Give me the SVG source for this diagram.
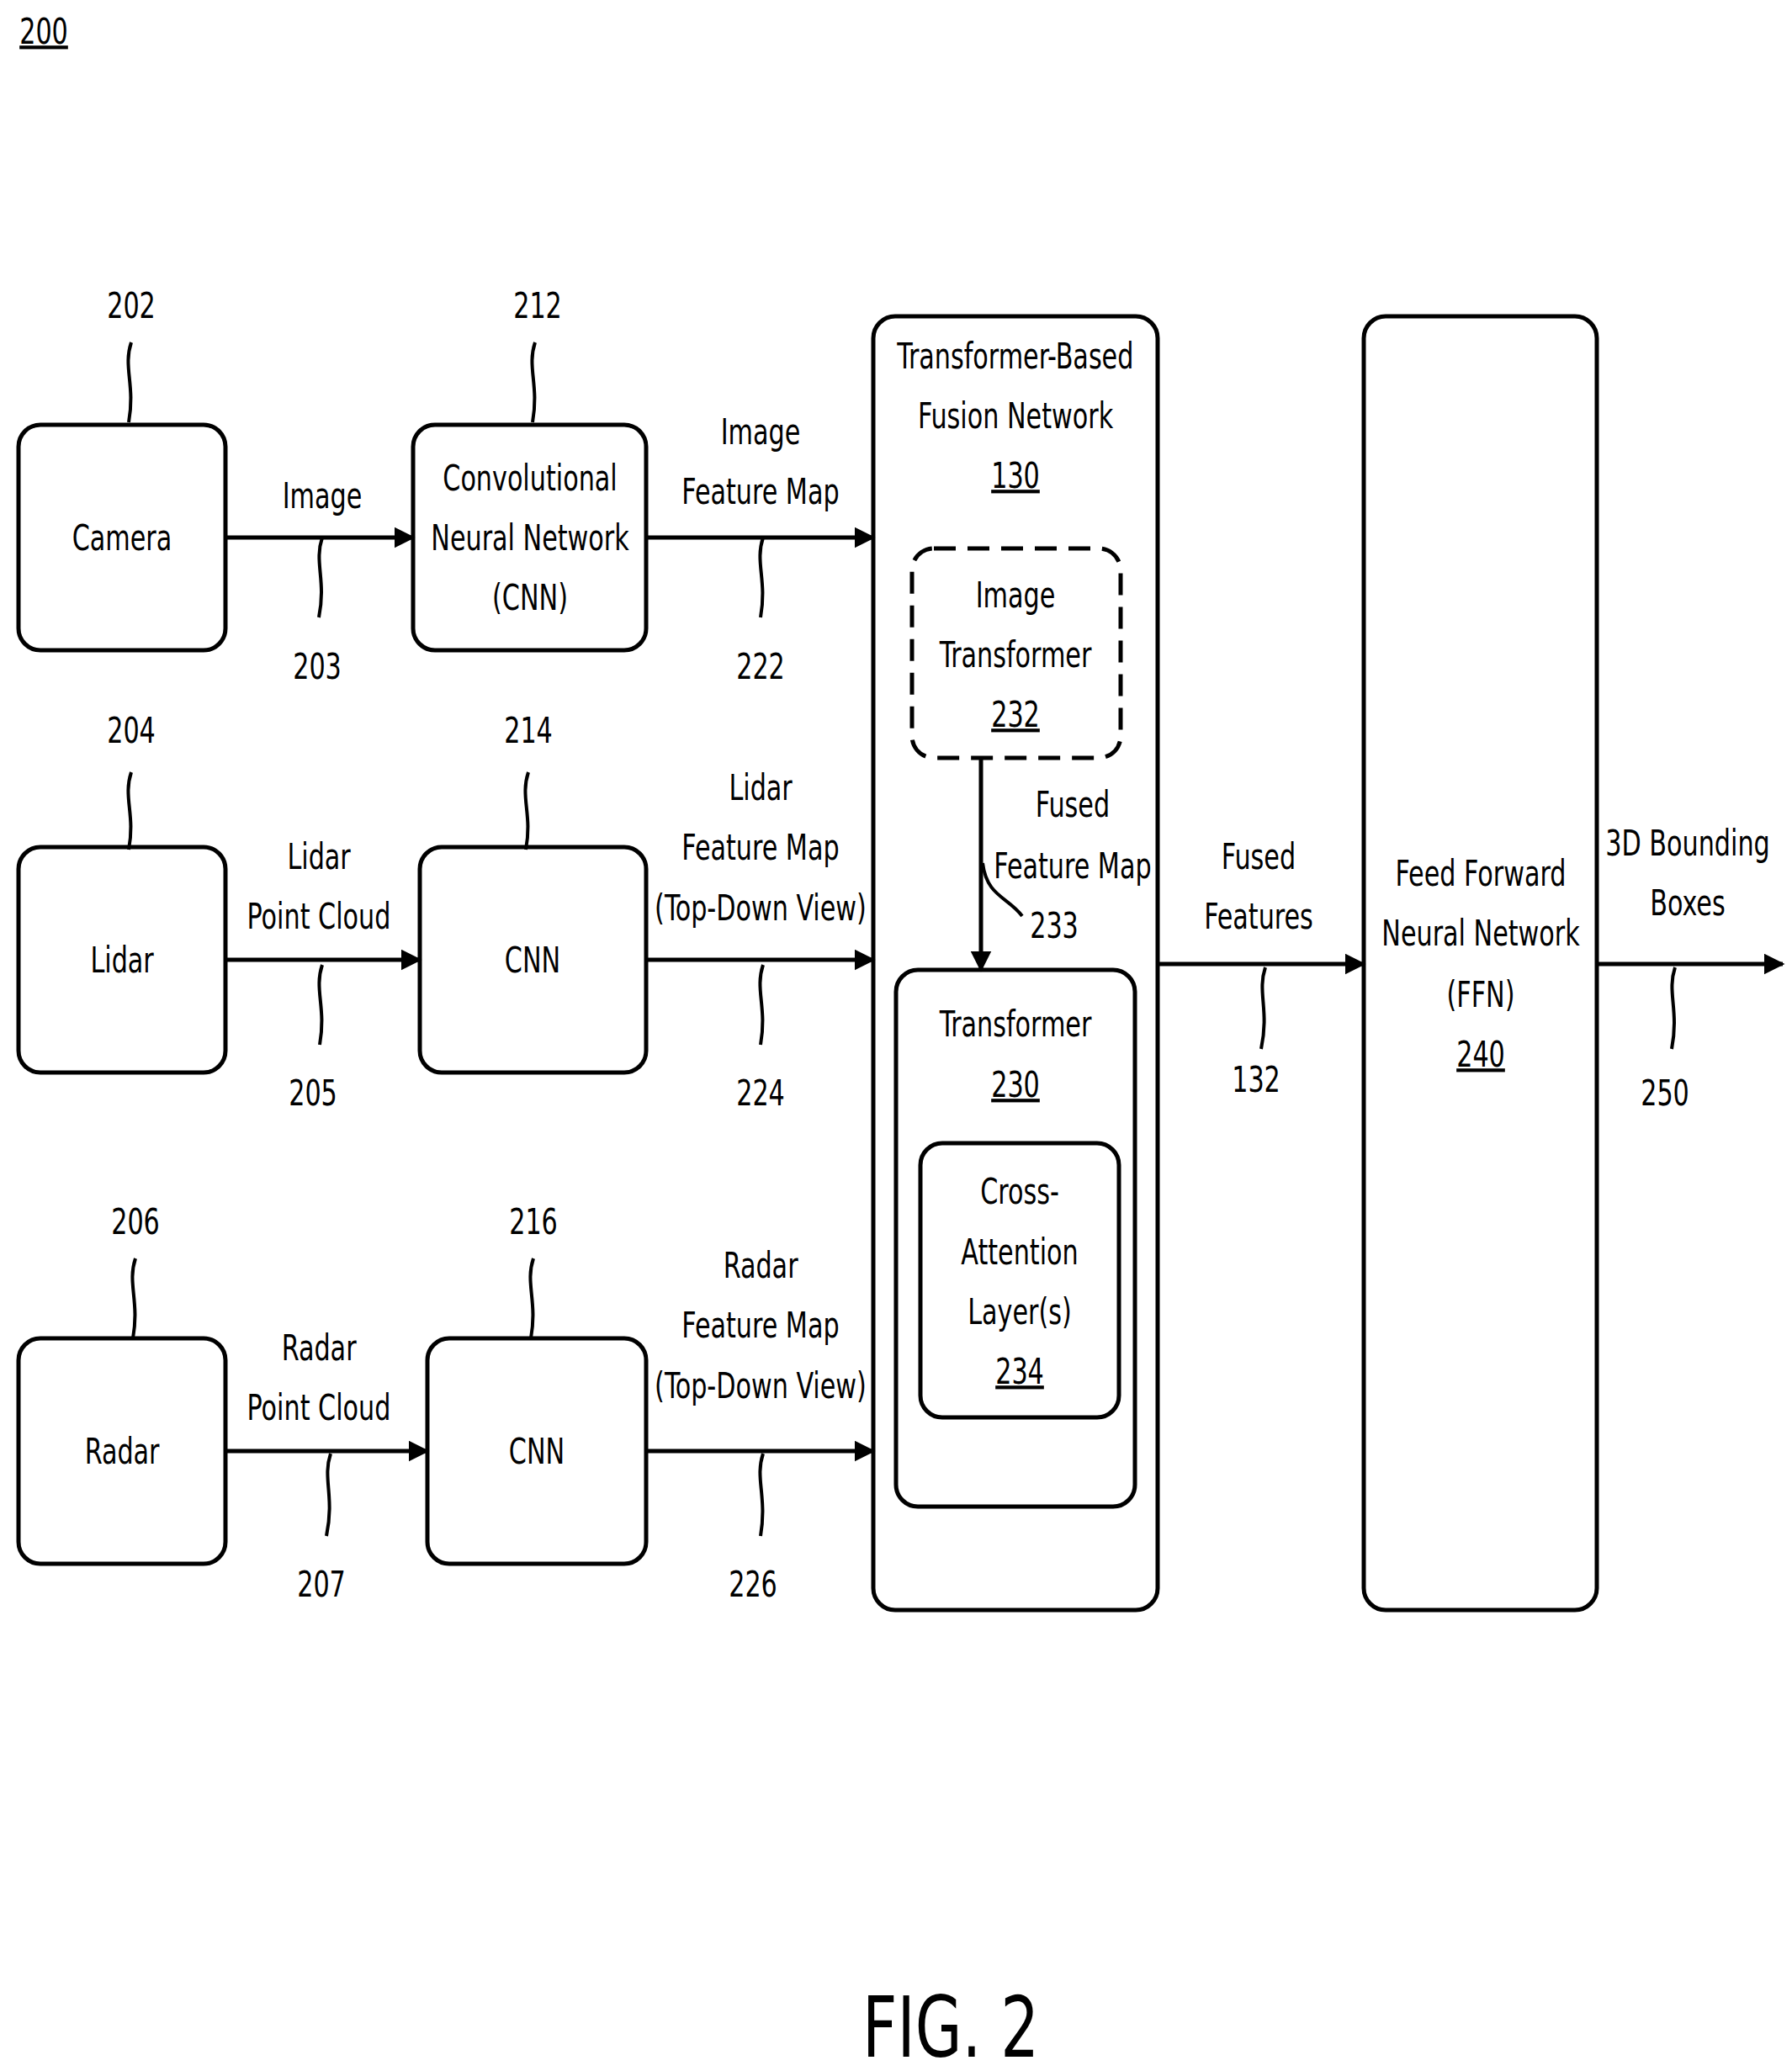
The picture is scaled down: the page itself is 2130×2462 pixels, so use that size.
<svg xmlns="http://www.w3.org/2000/svg" width="2130" height="2462" viewBox="0 0 2130 2462">
<style>
text{font-family:"DejaVu Sans Condensed","Liberation Sans",sans-serif;font-stretch:condensed;font-size:42px;text-anchor:middle;fill:#000;transform-box:fill-box;transform-origin:center;transform:scaleX(0.8)}
.u{text-decoration:underline}
.b{fill:#fff;stroke:#000;stroke-width:5}
.l{fill:none;stroke:#000;stroke-width:4}
.a{fill:none;stroke:#000;stroke-width:5;marker-end:url(#ah)}
</style>
<defs><marker id="ah" viewBox="0 0 10 10" refX="9" refY="5" markerWidth="5" markerHeight="5" orient="auto" markerUnits="strokeWidth"><path d="M0,0L10,5L0,10z" fill="#000"/></marker></defs>
<rect width="2130" height="2462" fill="#fff"/>
<text x="52" y="52" class="u">200</text>
<g id="camera"><rect class="b" x="22" y="505" width="246" height="268" rx="26"/><text x="145" y="654">Camera</text></g>
<g id="cnn212"><rect class="b" x="491" y="505" width="277" height="268" rx="26"/><text x="630" y="583">Convolutional</text><text x="630" y="654">Neural Network</text><text x="630" y="725">(CNN)</text></g>
<g id="lidar"><rect class="b" x="22" y="1007" width="246" height="268" rx="26"/><text x="145" y="1156">Lidar</text></g>
<g id="cnn214"><rect class="b" x="499" y="1007" width="269" height="268" rx="26"/><text x="633" y="1156">CNN</text></g>
<g id="radar"><rect class="b" x="22" y="1591" width="246" height="268" rx="26"/><text x="145" y="1740">Radar</text></g>
<g id="cnn216"><rect class="b" x="508" y="1591" width="260" height="268" rx="26"/><text x="638" y="1740">CNN</text></g>
<g id="fusion"><rect class="b" x="1038" y="376" width="338" height="1538" rx="26"/><text x="1207" y="438">Transformer-Based</text><text x="1207" y="509">Fusion Network</text><text x="1207" y="580" class="u">130</text></g>
<g id="imgtrans"><rect x="1084" y="652" width="248" height="249" rx="26" fill="#fff" stroke="#000" stroke-width="5" stroke-dasharray="26,14"/><text x="1207" y="722">Image</text><text x="1207" y="793">Transformer</text><text x="1207" y="864" class="u">232</text></g>
<g id="trans230"><rect class="b" x="1065" y="1153" width="284" height="638" rx="26"/><text x="1207" y="1232">Transformer</text><text x="1207" y="1304" class="u">230</text></g>
<g id="cross"><rect class="b" x="1094" y="1359" width="236" height="326" rx="26"/><text x="1212" y="1431">Cross-</text><text x="1212" y="1503">Attention</text><text x="1212" y="1574">Layer(s)</text><text x="1212" y="1645" class="u">234</text></g>
<g id="ffn"><rect class="b" x="1621" y="376" width="277" height="1538" rx="26"/><text x="1760" y="1053">Feed Forward</text><text x="1760" y="1124">Neural Network</text><text x="1760" y="1197">(FFN)</text><text x="1760" y="1268" class="u">240</text></g>
<g id="connectors">
<path class="a" d="M268,639H491"/><path class="a" d="M768,639H1038"/>
<path class="a" d="M268,1141H499"/><path class="a" d="M768,1141H1038"/>
<path class="a" d="M268,1725H508"/><path class="a" d="M768,1725H1038"/>
<path class="a" d="M1166,901V1153"/>
<path class="a" d="M1376,1146H1621"/><path class="a" d="M1898,1146H2119"/>
<g class="l">
<path d="M156,407c-10,30,5,50,-3,95"/><path d="M636,407c-10,30,5,50,-3,95"/>
<path d="M383,639c-10,30,5,50,-4,95"/><path d="M907,639c-10,30,5,50,-3,95"/>
<path d="M156,918c-10,30,5,50,-3,92"/><path d="M628,918c-10,30,5,50,-3,92"/>
<path d="M383,1147c-10,30,5,50,-3,95"/><path d="M907,1147c-10,30,5,50,-3,95"/>
<path d="M161,1496c-10,30,5,50,-3,95"/><path d="M634,1496c-10,30,5,50,-3,95"/>
<path d="M393,1728c-10,30,5,50,-5,98"/><path d="M907,1728c-10,30,5,50,-3,98"/>
<path d="M1168,1026c5,40,30,40,47,63"/>
<path d="M1504,1150c-10,30,5,50,-5,97"/><path d="M1991,1150c-10,30,5,50,-4,97"/>
</g>
</g>
<g id="labels">
<text x="156" y="378">202</text><text x="639" y="378">212</text><text x="377" y="807">203</text><text x="904" y="807">222</text>
<text x="156" y="883">204</text><text x="628" y="883">214</text><text x="372" y="1314">205</text><text x="904" y="1314">224</text>
<text x="161" y="1467">206</text><text x="634" y="1467">216</text><text x="382" y="1898">207</text><text x="895" y="1898">226</text>
<text x="1253" y="1115">233</text><text x="1493" y="1298">132</text><text x="1979" y="1314">250</text>
<text x="383" y="604">Image</text>
<text x="904" y="528">Image</text><text x="904" y="599">Feature Map</text>
<text x="379" y="1033">Lidar</text><text x="379" y="1104">Point Cloud</text>
<text x="904" y="951">Lidar</text><text x="904" y="1022">Feature Map</text><text x="904" y="1094">(Top-Down View)</text>
<text x="379" y="1617">Radar</text><text x="379" y="1688">Point Cloud</text>
<text x="904" y="1519">Radar</text><text x="904" y="1590">Feature Map</text><text x="904" y="1662">(Top-Down View)</text>
<text x="1275" y="971">Fused</text><text x="1275" y="1044">Feature Map</text>
<text x="1496" y="1033">Fused</text><text x="1496" y="1104">Features</text>
<text x="2006" y="1017">3D Bounding</text><text x="2006" y="1088">Boxes</text>
<text x="1130" y="2445" style="font-size:100px">FIG. 2</text>
</g>
</svg>
